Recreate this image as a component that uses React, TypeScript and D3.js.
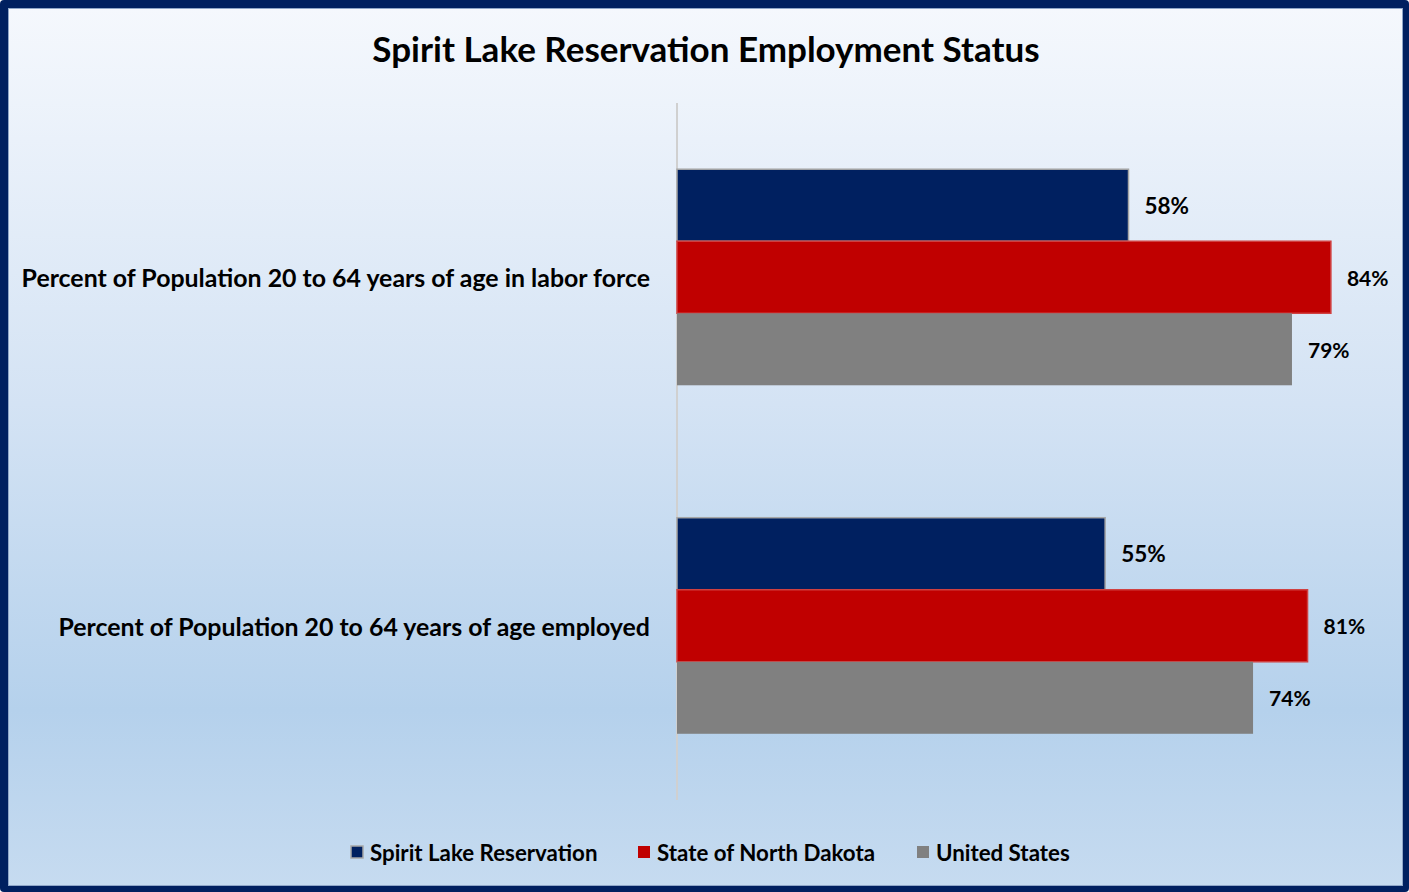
import React from "react";
import * as d3 from "d3";

const title = "Spirit Lake Reservation Employment Status";
const categories = [
  "Percent of Population 20 to 64 years of age in labor force",
  "Percent of Population 20 to 64 years of age employed",
];
const seriesNames = ["Spirit Lake Reservation", "State of North Dakota", "United States"];
const spiritLake = [0.58, 0.55];
const northDakota = [0.84, 0.81];
const unitedStates = [0.79, 0.74];
const seriesValues = [spiritLake, northDakota, unitedStates];
const seriesColors = ["#002060", "#C00000", "#808080"];
const seriesStrokes = ["#A6A6A6", "#D04040", "none"];

const W = 1409;
const H = 892;
const FONT = "Lato, 'Open Sans', sans-serif";

export default function App() {
  const plotLeft = 677;
  const plotTop = 103;
  const plotBottom = 800;
  const x = d3.scaleLinear().domain([0, 0.9]).range([plotLeft, plotLeft + 700.6]);
  const y = d3
    .scaleBand<string>()
    .domain(categories)
    .range([plotTop, plotBottom])
    .paddingInner(0.38)
    .paddingOuter(0.19);
  const inner = d3
    .scaleBand<number>()
    .domain([0, 1, 2])
    .range([0, y.bandwidth()])
    .padding(0);
  const fmt = d3.format(".0%");

  const legendItems = [
    { sx: 351, tx: 370 },
    { sx: 638, tx: 657 },
    { sx: 917, tx: 936 },
  ];

  return (
    <svg
      width={W}
      height={H}
      style={{ position: "absolute", left: 0, top: 0, display: "block" }}
    >
      <defs>
        <linearGradient id="bg" x1="0" y1="0" x2="0" y2="1">
          <stop offset="0" stopColor="#F5F8FD" />
          <stop offset="0.45" stopColor="#D4E3F4" />
          <stop offset="0.8" stopColor="#B5D1EC" />
          <stop offset="1" stopColor="#C6DBF0" />
        </linearGradient>
      </defs>
      <rect x={0} y={0} width={W} height={H} fill="#002060" rx={4} />
      <rect x={8} y={8} width={W - 14} height={H - 14} fill="url(#bg)" />
      <rect x={8.5} y={8.5} width={W - 15} height={H - 15} fill="none" stroke="#8FA6C8" strokeWidth={1} />

      <text
        x={706}
        y={48}
        textAnchor="middle"
        dominantBaseline="central"
        fontFamily={FONT}
        fontWeight={700}
        fontSize={35}
        fill="#000"
      >
        {title}
      </text>

      <line x1={plotLeft} x2={plotLeft} y1={plotTop} y2={plotBottom} stroke="#D0D0D0" strokeWidth={2} />

      {categories.map((c, ci) => (
        <g key={c}>
          <text
            x={650}
            y={(y(c) ?? 0) + y.bandwidth() / 2}
            textAnchor="end"
            dominantBaseline="central"
            fontFamily={FONT}
            fontWeight={700}
            fontSize={24.9}
            fill="#000"
          >
            {c}
          </text>
          {seriesValues.map((vals, si) => {
            const y0 = (y(c) ?? 0) + (inner(si) ?? 0);
            const v = vals[ci];
            return (
              <g key={si}>
                <rect
                  x={x(0)}
                  y={y0}
                  width={x(v) - x(0)}
                  height={inner.bandwidth()}
                  fill={seriesColors[si]}
                  stroke={seriesStrokes[si]}
                  strokeWidth={1.5}
                />
                <text
                  x={x(v) + 16}
                  y={y0 + inner.bandwidth() / 2}
                  dominantBaseline="central"
                  fontFamily={FONT}
                  fontWeight={700}
                  fontSize={si === 0 ? 22.5 : 21}
                  fill="#000"
                >
                  {fmt(v)}
                </text>
              </g>
            );
          })}
        </g>
      ))}

      {seriesNames.map((n, i) => (
        <g key={n}>
          <rect
            x={legendItems[i].sx}
            y={846}
            width={12}
            height={12}
            fill={seriesColors[i]}
            stroke={i === 0 ? "#A6A6A6" : "none"}
            strokeWidth={1.5}
          />
          <text
            x={legendItems[i].tx}
            y={852}
            dominantBaseline="central"
            fontFamily={FONT}
            fontWeight={700}
            fontSize={22.3}
            fill="#000"
          >
            {n}
          </text>
        </g>
      ))}
    </svg>
  );
}
